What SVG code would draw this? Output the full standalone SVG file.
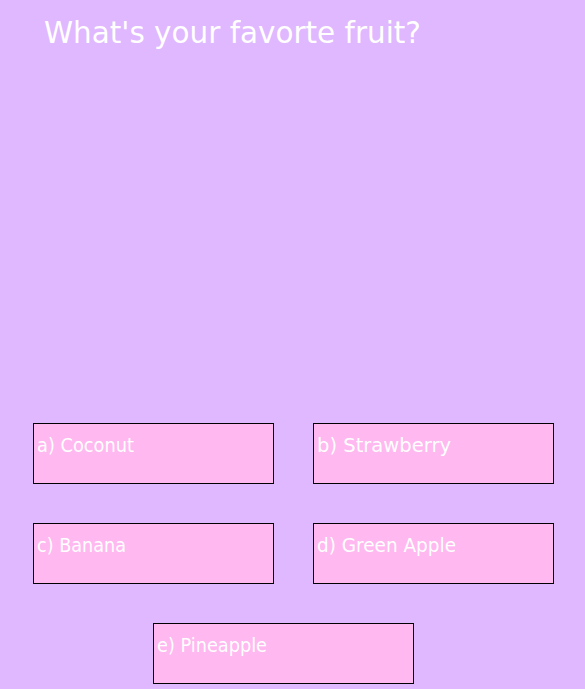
<svg xmlns="http://www.w3.org/2000/svg" width="585" height="689" viewBox="0 0 585 689">
<style>
.box{fill:#FFB8F0;stroke:#000;stroke-width:1}
.lbl{font-family:"Comic Sans MS","DejaVu Sans","Liberation Sans",sans-serif;font-size:19px;fill:#fff}
.title{font-family:"Comic Sans MS","DejaVu Sans","Liberation Sans",sans-serif;font-size:30px;fill:#fff}
</style>
<rect x="0" y="0" width="585" height="689" fill="#E0B8FF"/>
<text class="title" x="44" y="43" textLength="377" lengthAdjust="spacingAndGlyphs">What's your favorte fruit?</text>
<g id="a"><rect class="box" x="33.5" y="423.5" width="240" height="60"/><text class="lbl" x="37" y="452" textLength="97" lengthAdjust="spacingAndGlyphs">a) Coconut</text></g>
<g id="b"><rect class="box" x="313.5" y="423.5" width="240" height="60"/><text class="lbl" x="317" y="452" textLength="134" lengthAdjust="spacingAndGlyphs">b) Strawberry</text></g>
<g id="c"><rect class="box" x="33.5" y="523.5" width="240" height="60"/><text class="lbl" x="37" y="552" textLength="89" lengthAdjust="spacingAndGlyphs">c) Banana</text></g>
<g id="d"><rect class="box" x="313.5" y="523.5" width="240" height="60"/><text class="lbl" x="317" y="552" textLength="139" lengthAdjust="spacingAndGlyphs">d) Green Apple</text></g>
<g id="e"><rect class="box" x="153.5" y="623.5" width="260" height="60"/><text class="lbl" x="157" y="652" textLength="110" lengthAdjust="spacingAndGlyphs">e) Pineapple</text></g>
</svg>
